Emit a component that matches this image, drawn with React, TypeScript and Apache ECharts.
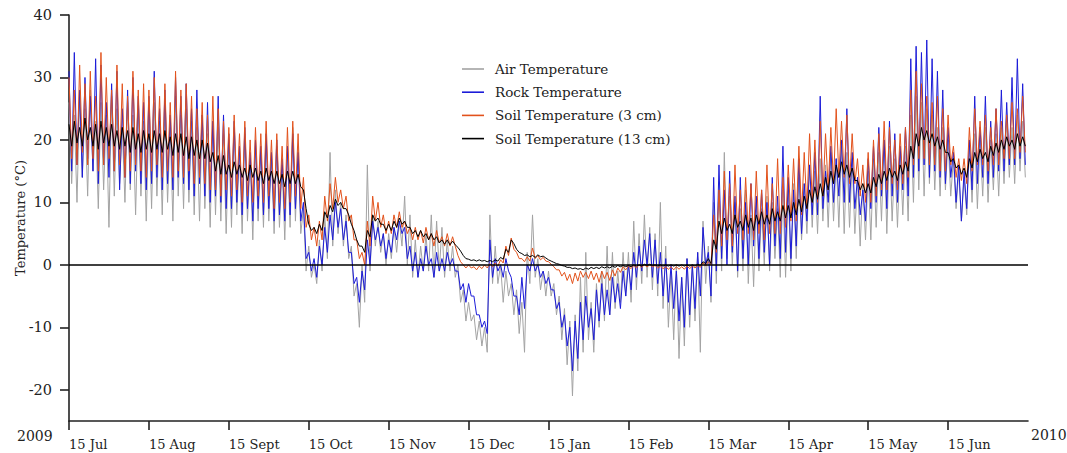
import React, { useEffect, useRef } from "react";
import * as echarts from "echarts";

const MONTH_LABELS = ["15 Jul", "15 Aug", "15 Sept", "15 Oct", "15 Nov", "15 Dec", "15 Jan", "15 Feb", "15 Mar", "15 Apr", "15 May", "15 Jun"];
const MONTH_TICKS = [0, 1, 2, 3, 4, 5, 6, 7, 8, 9, 10, 11];
const Y_TICKS = [-20, -10, 0, 10, 20, 30, 40];
const YEAR_START = "2009";
const YEAR_END = "2010";
const SERIES_NAMES = ["Air Temperature", "Rock Temperature", "Soil Temperature (3 cm)", "Soil Temperature (13 cm)"];
const DAYS_PER_MONTH = 30;

// each value = one 2-day period (high day, low day); one line = one month
const AIR_HI = [
  26, 24, 27, 25, 28, 23, 26, 24, 27, 25, 22, 26, 24, 25, 23,
  24, 26, 23, 25, 22, 27, 24, 25, 23, 22, 24, 21, 23, 22, 21,
  20, 22, 18, 21, 17, 19, 18, 20, 17, 19, 16, 18, 22, 19, 9,
  3, 0, 4, 8, 18, 12, 10, 8, 3, -3, 0, 16, 8, 7, 5,
  5, 6, 7, 11, 8, 4, 3, 5, 8, 7, 6, 4, 3, 0, -4,
  -6, -8, -9, -10, 8, 3, 0, -1, -3, -4, -6, 2, 8, 1, -1,
  -1, -3, -5, -7, -9, -8, -2, 2, -6, -3, -1, 3, 2, -1, 2,
  2, 7, 5, 8, 6, 5, 10, 3, -1, 0, -2, 1, 0, 2, 7,
  3, 10, 12, 18, 11, 10, 9, 12, 8, 10, 9, 11, 10, 9, 12,
  12, 13, 14, 13, 16, 15, 17, 16, 18, 17, 19, 18, 17, 14, 13,
  15, 17, 18, 20, 19, 17, 18, 19, 24, 27, 26, 25, 24, 22, 22,
  20, 17, 15, 14, 19, 21, 20, 22, 20, 21, 22, 23, 22, 24, 23,
];
const AIR_LO = [
  13, 10, 14, 11, 15, 9, 12, 6, 11, 13, 10, 12, 8, 11, 7,
  9, 11, 8, 10, 7, 11, 9, 10, 8, 7, 9, 6, 8, 7, 5,
  6, 8, 5, 7, 4, 7, 6, 7, 5, 6, 4, 6, 7, 5, -1,
  -2, -3, -1, 1, 3, 5, 3, 1, -5, -10, -6, -1, 3, 2, 0,
  1, 2, 3, 0, -2, -2, -1, -1, -2, -1, -2, -1, -2, -6, -9,
  -9, -12, -13, -14, -3, -3, -6, -5, -8, -11, -14, -3, -2, -4, -5,
  -5, -8, -12, -16, -21, -17, -14, -12, -14, -10, -9, -8, -7, -6, -5,
  -6, -4, -3, -2, -4, -5, -7, -10, -12, -15, -13, -10, -9, -14, -3,
  -6, -3, -1, 1, 0, -2, -1, -3, -3.5, -1, 0, -1, 1, -2, -2,
  -1, 1, 4, 5, 6, 5, 7, 6, 7, 6, 5, 6, 5, 3, 4,
  4, 6, 7, 5, 7, 6, 8, 7, 10, 12, 11, 13, 12, 11, 12,
  11, 9, 7, 8, 10, 9, 11, 10, 12, 11, 13, 14, 13, 15, 14,
];
const ROCK_HI = [
  31, 34, 28, 30, 27, 33, 32, 26, 29, 31, 25, 28, 30, 27, 26,
  27, 31, 25, 28, 24, 30, 27, 29, 25, 28, 24, 26, 23, 27, 24,
  21, 23, 19, 22, 18, 20, 19, 21, 18, 20, 17, 19, 21, 18, 10,
  2, 1, 3, 6, 8, 10, 9, 7, 2, -2, -1, 4, 7, 6, 5,
  4, 6, 7, 6, 3, 2, 1, 3, 1, 2, 1, 2, 1, -1, -3,
  -3, -5, -8, -9, 4, 1, 0, 1, -2, -5, -2, 0, 1, 0, -1,
  -2, -4, -6, -8, -10, -9, -6, -5, -7, -4, -3, -4, -2, -3, -1,
  0, 2, 3, 4, 5, 4, 2, 1, 0, -1, -2, 1, 0, 2, 6,
  2, 14, 16, 12, 15, 11, 14, 10, 13, 11, 12, 10, 14, 11, 19,
  14, 12, 17, 13, 16, 18, 27, 15, 19, 17, 20, 25, 18, 14, 12,
  17, 19, 22, 20, 23, 21, 19, 22, 33, 35, 34, 36, 33, 31, 28,
  22, 18, 16, 15, 20, 27, 22, 27, 23, 25, 28, 26, 30, 33, 29,
];
const ROCK_LO = [
  15, 16, 14, 17, 15, 13, 16, 14, 15, 12, 14, 13, 15, 13, 12,
  13, 14, 12, 13, 12, 14, 13, 12, 11, 13, 11, 10, 11, 10, 9,
  9, 10, 8, 9, 7, 9, 8, 9, 7, 8, 7, 8, 9, 7, 1,
  -1, -2, 0, 2, 4, 6, 4, 2, -3, -6, -4, 0, 4, 3, 1,
  2, 4, 5, 1, -1, -2, -1, 0, -2, -1, -1, 0, -1, -4, -6,
  -5, -8, -10, -11, -2, -1, -2, -1, -5, -8, -7, -1, -1, -2, -3,
  -4, -7, -10, -13, -17, -15, -12, -10, -12, -9, -8, -8, -6, -7, -5,
  -4, -2, -1, 0, -2, -3, -5, -6, -7, -9, -10, -8, -7, -5, 0,
  -5, -1, 1, 0, 2, -1, 1, 0, 3, 1, 2, 0, 3, 1, 2,
  1, 3, 5, 7, 8, 8, 9, 10, 10, 11, 10, 10, 9, 8, 7,
  9, 10, 11, 9, 11, 10, 12, 11, 14, 15, 16, 14, 15, 14, 13,
  14, 10, 7, 9, 12, 13, 14, 13, 14, 15, 15, 16, 16, 17, 16,
];
const SOIL3_HI = [
  30, 28, 32, 29, 31, 27, 34, 30, 28, 32, 29, 27, 31, 28, 29,
  28, 30, 27, 29, 26, 31, 28, 29, 27, 25, 26, 24, 27, 25, 23,
  22, 24, 21, 23, 20, 22, 21, 23, 20, 21, 19, 22, 23, 21, 14,
  8, 6, 7, 11, 13, 14, 12, 11, 8, 4, 2, 7, 11, 10, 8,
  7, 8, 8.5, 7, 6, 6, 5.5, 6, 5, 5.5, 4.5, 5, 4.5, 1.5, 0,
  0, -0.3, -0.2, 0, 0.2, 0.3, 0.8, 3, 4.3, 2, 1, 1.3, 2.7, 1.5, 1.2,
  0.5, -0.3, -0.8, -1.2, -1.5, -1.3, -1, -1.2, -1, -1.3, -1, -1.2, -0.8, -0.5, -0.3,
  -0.2, -0.1, 0, 0, 0, -0.1, -0.2, -0.3, -0.3, -0.3, -0.3, -0.2, -0.2, -0.1, 0.3,
  0.5, 8, 12, 15, 13, 16, 12, 14, 13, 15, 12, 16, 13, 17, 14,
  16, 17, 19, 18, 21, 20, 23, 21, 22, 25, 23, 24, 21, 17, 16,
  18, 20, 21, 23, 22, 20, 21, 22, 28, 31, 29, 27, 26, 27, 25,
  24, 19, 17, 17, 22, 25, 23, 24, 22, 25, 23, 24, 26, 25, 27,
];
const SOIL3_LO = [
  17, 16, 18, 16, 17, 15, 16, 17, 15, 16, 14, 15, 16, 15, 14,
  15, 16, 14, 15, 14, 15, 14, 15, 13, 14, 13, 12, 12, 11, 12,
  11, 12, 10, 11, 10, 11, 10, 11, 9, 10, 9, 10, 11, 9, 6,
  4, 3, 4, 7, 9, 10, 9, 7, 4, 1, 0, 3, 7, 6, 5,
  5, 6, 6, 5, 4, 4, 3.5, 4, 3, 3.5, 3, 3, 3, 0.5, -0.5,
  -0.5, -0.8, -0.6, -0.5, -0.3, -0.2, 0.3, 1.5, 2.5, 1, 0.5, 0.6, 1, 0.8, 0.6,
  0.1, -0.8, -1.8, -2.5, -3, -2.6, -2, -2.2, -2.4, -2.8, -2.2, -2.5, -1.8, -1.2, -0.8,
  -0.6, -0.5, -0.4, -0.3, -0.3, -0.5, -0.6, -0.7, -0.8, -0.7, -0.7, -0.6, -0.5, -0.4, -0.2,
  0, 2, 3, 4, 3, 5, 4, 5, 4, 5, 4, 5, 5, 5, 6,
  7, 7, 8, 9, 10, 10, 11, 12, 13, 14, 14, 13, 13, 11, 10,
  10, 11, 12, 12, 13, 12, 13, 14, 16, 17, 17, 16, 16, 15, 15,
  16, 14, 13.5, 13, 15, 16, 16, 15, 16, 16, 17, 17, 17, 18, 18,
];
const SOIL13_HI = [
  22.5, 23, 22, 23.5, 22, 22.5, 23, 22, 22.5, 21.5, 22, 21.5, 22, 21, 21.5,
  21, 21.5, 21, 21.5, 20.5, 21, 21, 20.5, 20.5, 20, 20, 19.5, 18, 17.5, 17.5,
  16, 16.5, 16, 15.5, 16, 15.5, 15, 15.5, 15, 15, 14.5, 15, 15, 14.5, 12,
  6.5, 6, 6.5, 8.5, 9.5, 10.5, 10, 9, 6.5, 4, 3, 5.5, 8, 7.5, 6.5,
  6.5, 7, 7.5, 7, 6, 5.5, 5.5, 5, 5, 4.5, 4, 4, 3.8, 2.8, 1.5,
  0.9, 0.8, 0.8, 0.7, 0.7, 0.8, 1.2, 2.5, 4, 2.5, 1.8, 1.6, 1.5, 1.6, 1.4,
  0.8, 0.4, 0.1, -0.2, -0.4, -0.5, -0.6, -0.5, -0.4, -0.4, -0.3, -0.3, -0.2, -0.1, -0.1,
  -0.1, 0, 0, 0.1, 0.1, 0, 0, 0, 0, 0, 0, 0, 0, 0.1, 0.5,
  1, 4, 7, 7.5, 6.5, 8, 7, 8, 7.5, 8, 8.5, 8, 9, 8.5, 9.5,
  9.5, 10, 10.5, 11, 12, 12.5, 13, 14, 15, 16, 16.5, 16, 15.5, 13.5, 13,
  13, 14, 14.5, 15, 15.5, 15, 16, 16.5, 19, 21, 22, 21.5, 21, 20.5, 20,
  18, 17, 16, 15.5, 17, 18, 18.5, 18, 19, 19.5, 20, 20.5, 20, 21, 20.5,
];
const SOIL13_LO = [
  19, 19.5, 19, 20, 19, 18.5, 19.5, 19, 19, 18.5, 19, 18, 18.5, 18, 18.5,
  18, 18.5, 18, 18.5, 17.5, 18, 17.5, 17, 17.5, 17, 17, 16.5, 15, 14.5, 14.5,
  14, 14.5, 14, 13.5, 14, 13.5, 13, 13.5, 13, 13, 12.5, 13, 13, 12.5, 9,
  5.5, 5, 5.5, 7.5, 8.5, 9.5, 9, 8, 5.5, 3, 2, 4.5, 7, 6.5, 5.5,
  5.5, 6, 6.5, 6, 5, 4.5, 4.5, 4, 4, 3.5, 3.3, 3.2, 3.2, 2.2, 1.0,
  0.7, 0.6, 0.6, 0.5, 0.5, 0.6, 0.9, 2, 3.4, 2, 1.5, 1.3, 1.2, 1.3, 1.1,
  0.6, 0.2, -0.1, -0.4, -0.6, -0.7, -0.8, -0.7, -0.6, -0.6, -0.5, -0.5, -0.4, -0.3, -0.3,
  -0.3, -0.2, -0.2, -0.1, -0.1, -0.2, -0.2, -0.2, -0.2, -0.2, -0.2, -0.2, -0.2, -0.1, 0.2,
  0.2, 2.5, 5, 5.5, 5, 6, 5.5, 6, 5.5, 6.5, 6.5, 6.5, 7, 7, 7.5,
  7.5, 8, 8.5, 9, 10, 10.5, 11, 12, 13, 14, 14.5, 14, 13.5, 12, 11.5,
  11.5, 12.5, 13, 13.5, 14, 13.5, 14.5, 15, 17, 19, 20, 19.5, 19, 18.5, 18,
  16.5, 15.5, 14.5, 14, 15.5, 16.5, 17, 16.5, 17.5, 18, 18.5, 19, 18.5, 19, 19,
];

const COLORS = ["#a3a3a3", "#1c1cd8", "#e2521c", "#000000"];
const FONT = "DejaVu Serif";

function buildLine(hi: number[], lo: number[]) {
  const out: number[][] = [];
  for (let i = 0; i < hi.length; i++) {
    out.push([(2 * i) / DAYS_PER_MONTH, hi[i]]);
    out.push([(2 * i + 1) / DAYS_PER_MONTH, lo[i]]);
  }
  return out;
}

export default function App() {
  const ref = useRef<HTMLDivElement>(null);
  useEffect(() => {
    if (!ref.current) return;
    const chart = echarts.init(ref.current, null, { renderer: "svg" });
    const data = [
      buildLine(AIR_HI, AIR_LO),
      buildLine(ROCK_HI, ROCK_LO),
      buildLine(SOIL3_HI, SOIL3_LO),
      buildLine(SOIL13_HI, SOIL13_LO),
    ];
    chart.setOption({
      animation: false,
      backgroundColor: "#ffffff",
      grid: { left: 69, right: 39, top: 15, bottom: 32, outerBoundsMode: "none", containLabel: false },
      legend: {
        orient: "vertical",
        left: 462,
        top: 62,
        padding: 0,
        icon: "rect",
        itemWidth: 22,
        itemHeight: 1.6,
        itemGap: 9.2,
        data: SERIES_NAMES,
        textStyle: { fontFamily: FONT, fontSize: 13.5, color: "#222", padding: [0, 0, 0, 6] },
      },
      xAxis: {
        type: "value",
        min: 0,
        max: 12,
        splitLine: { show: false },
        axisLine: { onZero: false, lineStyle: { color: "#222", width: 1.6 } },
        axisTick: {
          show: true,
          length: 9,
          customValues: MONTH_TICKS,
          lineStyle: { color: "#222", width: 1.6 },
        },
        axisLabel: {
          customValues: MONTH_TICKS,
          formatter: (v: number) => MONTH_LABELS[Math.round(v)] ?? "",
          align: "left",
          margin: 17,
          fontFamily: FONT,
          fontSize: 13,
          color: "#222",
        },
      },
      yAxis: {
        type: "value",
        min: -25,
        max: 40,
        name: "Temperature (°C)",
        nameLocation: "middle",
        nameGap: 42,
        nameMoveOverlap: false,
        nameTextStyle: { fontFamily: FONT, fontSize: 13, color: "#222" },
        splitLine: { show: false },
        axisLine: { show: true, lineStyle: { color: "#222", width: 1.6 } },
        axisTick: {
          show: true,
          length: 9,
          customValues: Y_TICKS,
          lineStyle: { color: "#222", width: 1.6 },
        },
        axisLabel: {
          customValues: Y_TICKS,
          margin: 17,
          fontFamily: FONT,
          fontSize: 14.5,
          color: "#222",
        },
      },
      graphic: [
        { type: "text", left: 17, top: 429, style: { text: YEAR_START, font: `14px "${FONT}"`, fill: "#222" } },
        { type: "text", left: 1031, top: 428, style: { text: YEAR_END, font: `14px "${FONT}"`, fill: "#222" } },
      ],
      series: SERIES_NAMES.map((name, i) => ({
        name,
        type: "line",
        data: data[i],
        symbol: "none",
        showSymbol: false,
        color: COLORS[i],
        lineStyle: { width: 1, color: COLORS[i] },
        z: 2 + i,
        markLine:
          i === 3
            ? {
                silent: true,
                symbol: "none",
                label: { show: false },
                lineStyle: { color: "#000", width: 1.6, type: "solid" },
                data: [{ yAxis: 0 }],
              }
            : undefined,
      })),
    });
    return () => chart.dispose();
  }, []);
  return <div ref={ref} style={{ width: 1067, height: 453, position: "absolute", left: 0, top: 0 }} />;
}
